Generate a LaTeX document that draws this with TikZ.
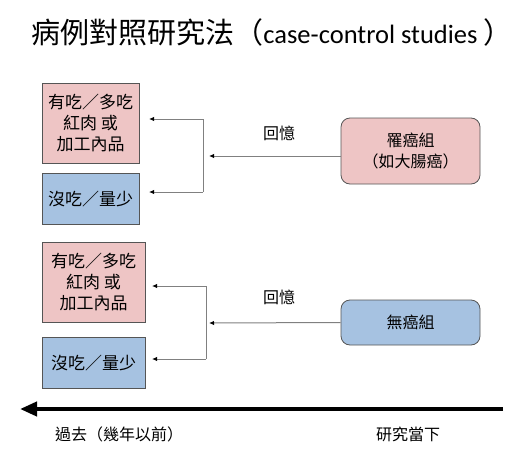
\documentclass[tikz,border=0pt]{standalone}
\usepackage{fontspec}
\setmainfont{Carlito}
\newfontfamily\cjk{Noto Sans CJK TC}
\usepackage{tikz}
\usetikzlibrary{arrows.meta,positioning,calc}
\definecolor{casepink}{RGB}{238,197,197}
\definecolor{ctrlblue}{RGB}{166,194,225}
\definecolor{boxline}{RGB}{85,85,85}
\definecolor{linkgray}{RGB}{128,128,128}
\tikzset{
    x=1pt,y=-1pt,
    expo/.style ={rectangle, draw=boxline, thick, inner sep=0pt, align=center,
        font=\cjk\fontsize{17}{21}\selectfont, minimum width=97pt},
    grp/.style ={rectangle, rounded corners=9pt, draw=boxline, thick, inner sep=0pt,
        align=center, font=\cjk\fontsize{16}{21}\selectfont, minimum width=139pt},
    recall/.style ={draw=linkgray, line width=1pt, -{Latex[length=5pt,width=4.5pt,black]}},
    el/.style = {inner sep=0pt, font=\cjk\fontsize{16}{20}\selectfont}
}

\begin{document}
\begin{tikzpicture}
        \useasboundingbox (0,0) rectangle (529,460);
        % Title
        \node (title) at (272,32) {{\cjk\fontsize{29}{32}\selectfont 病例對照研究法（}{\fontsize{26.5}{30}\selectfont case-control studies }{\cjk\fontsize{29}{32}\selectfont ）}};
        % Case group and its exposures
        \node[grp,fill=casepink,minimum height=66pt] (cases) at (410.5,151) {罹癌組\\（如大腸癌）};
        \node[expo,fill=casepink,minimum height=80pt] (eatA) at (90.5,123) {有吃／多吃\\紅肉 或\\加工內品};
        \node[expo,fill=ctrlblue,minimum height=51pt] (noneA) [below=10pt of eatA] {沒吃／量少};
        \coordinate (joinA) at (209,156);
        \coordinate (upA) at (203,119);
        \coordinate (lowA) at (203,192);
        \coordinate (tipA1) at (149,119);
        \coordinate (tipA2) at (149,192);
        \draw[recall] ([yshift=-5pt]cases.west) -- (joinA);
        \draw[draw=linkgray, line width=1pt] (upA) -- (lowA);
        \draw[recall] (upA) -- (tipA1);
        \draw[recall] (lowA) -- (tipA2);
        \node[el] (memA) at (279,133) {回憶};
        % Control group and its exposures
        \node[grp,fill=ctrlblue,minimum height=45pt] (controls) at (410.5,322.5) {無癌組};
        \node[expo,fill=casepink,minimum height=80pt,minimum width=103pt] (eatB) at (93.5,282) {有吃／多吃\\紅肉 或\\加工內品};
        \node[expo,fill=ctrlblue,minimum height=51pt,minimum width=103pt] (noneB) [below=15pt of eatB] {沒吃／量少};
        \coordinate (joinB) at (209,323);
        \coordinate (upB) at (206,286);
        \coordinate (lowB) at (206,359);
        \coordinate (tipB1) at (152,286);
        \coordinate (tipB2) at (152,359);
        \draw[recall] (controls.west) -- (joinB);
        \draw[draw=linkgray, line width=1pt] (upB) -- (lowB);
        \draw[recall] (upB) -- (tipB1);
        \draw[recall] (lowB) -- (tipB2);
        \node[el] (memB) at (279,297) {回憶};
        % Time axis
        \coordinate (now) at (503,409);
        \coordinate (past) at (20,409);
        \draw[line width=4pt, -{Triangle[length=17pt,width=14pt]}] (now) -- (past);
        \node[el] (pastlbl) at (119,434) {過去（幾年以前）};
        \node[el] (nowlbl) at (408,434) {研究當下};
    \end{tikzpicture}
\end{document}
